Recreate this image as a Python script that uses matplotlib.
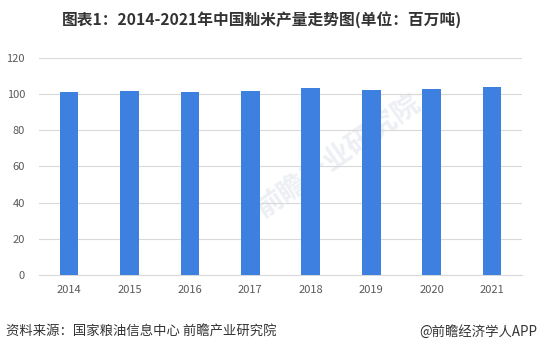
import matplotlib
matplotlib.use("Agg")
import matplotlib.pyplot as plt

plt.rcParams["font.family"] = ["Noto Sans CJK SC", "DejaVu Sans"]

# Data (百万吨)
years = ["2014", "2015", "2016", "2017", "2018", "2019", "2020", "2021"]
output = [100.9, 101.8, 101.1, 101.9, 103.5, 102.5, 102.9, 104.1]
y_ticks = [0, 20, 40, 60, 80, 100, 120]

BAR_CLR = "#3D80DF"
GRID_CLR = "#D9D9D9"
TICK_CLR = "#595959"
TEXT_CLR = "#333333"

fig = plt.figure(figsize=(5.4, 3.51), dpi=100)
fig.patch.set_facecolor("white")
ax = fig.add_axes([0.072, 0.2165, 0.895, 0.6185])

x = range(len(years))
ax.bar(x, output, width=0.31, color=BAR_CLR, zorder=3)

ax.set_xlim(-0.5, len(years) - 0.5)
ax.set_ylim(0, 120)
ax.set_yticks(y_ticks)
ax.set_xticks(list(x))
ax.set_xticklabels(years)
ax.grid(axis="y", color=GRID_CLR, linewidth=0.8, zorder=0)
for side in ["top", "right", "left"]:
    ax.spines[side].set_visible(False)
ax.spines["bottom"].set_color(GRID_CLR)
ax.tick_params(axis="both", length=0, labelsize=8, colors=TICK_CLR)
ax.tick_params(axis="x", pad=7)
ax.tick_params(axis="y", pad=10)

# faint watermark
ax.text(0.62, 0.55, "前瞻产业研究院", transform=ax.transAxes, rotation=35,
        fontsize=20, color="#ECEFF4", ha="center", va="center", zorder=1,
        fontweight="bold")

fig.text(0.485, 0.943, "图表1：2014-2021年中国籼米产量走势图(单位：百万吨)",
         ha="center", va="center", fontsize=11.3, fontweight="bold", color=TEXT_CLR)
fig.text(0.012, 0.054, "资料来源：国家粮油信息中心 前瞻产业研究院",
         ha="left", va="center", fontsize=9.6, color=TEXT_CLR)
fig.text(0.995, 0.054, "@前瞻经济学人APP",
         ha="right", va="center", fontsize=9.6, color=TEXT_CLR)

fig.savefig("out.png", dpi=100, facecolor="white")
